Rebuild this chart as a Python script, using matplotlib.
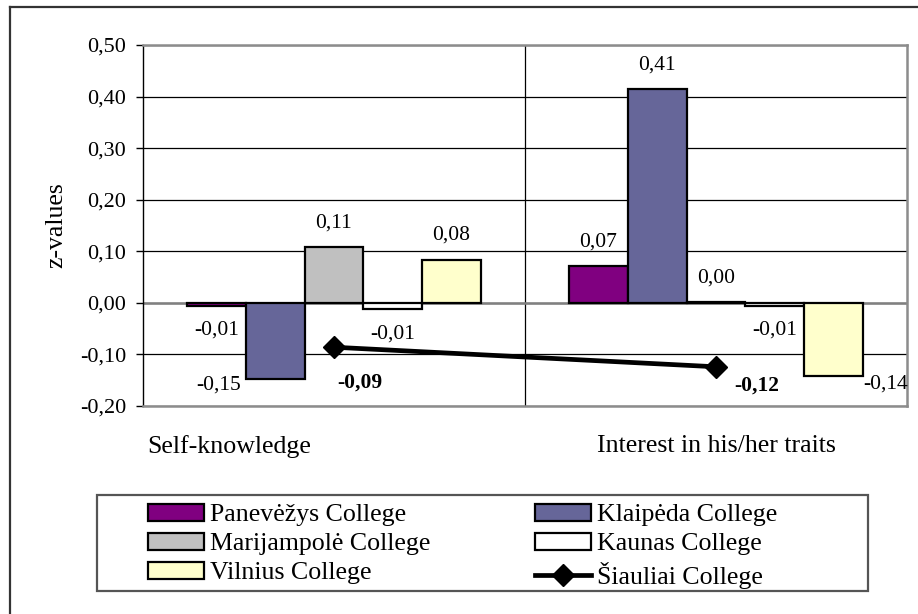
import numpy as np
import matplotlib.pyplot as plt
from matplotlib.patches import Rectangle
from matplotlib.lines import Line2D
from matplotlib.transforms import ScaledTranslation

plt.rcParams['font.family'] = ['Liberation Serif', 'DejaVu Serif']

categories = ["Self-knowledge", "Interest in his/her traits"]
colleges = ["Panevėžys College", "Klaipėda College", "Marijampolė College",
            "Kaunas College", "Vilnius College"]
panevezys = [-0.0052, 0.072]
klaipeda = [-0.148, 0.414]
marijampole = [0.108, 0.002]
kaunas = [-0.012, -0.0052]
vilnius = [0.084, -0.141]
siauliai = [-0.086, -0.124]
line_name = "Šiauliai College"
yticks = [-0.2, -0.1, 0.0, 0.1, 0.2, 0.3, 0.4, 0.5]

bar_series = [panevezys, klaipeda, marijampole, kaunas, vilnius]
bar_colors = ["#800080", "#666699", "#C0C0C0", "#FFFFFF", "#FFFFCC"]

# label offsets in pixels (None -> default above/below the bar end)
bar_label_offsets = [
    [None, None],
    [(-57, -6), None],
    [None, None],
    [None, None],
    [None, (52, -8)],
]
line_label_offsets = [(26, -35), (41, -19)]

def fmt(v):
    return f"{v:.2f}".replace(".", ",")

W, H = 918, 614
fig = plt.figure(figsize=(W / 100, H / 100), dpi=100)
fig.patch.set_facecolor("white")

# outer chart frame (left and top edges visible)
fig.add_artist(Line2D([10 / W, 10 / W], [0, 1 - 7 / H], color="#333333", lw=1.6))
fig.add_artist(Line2D([10 / W, 1], [1 - 7 / H, 1 - 7 / H], color="#333333", lw=1.6))

ax = fig.add_axes([143 / W, (H - 406) / H, 764 / W, 361 / H])

x = np.arange(len(categories))
n = len(bar_series)
bw = 1 / (n + 1.5)
fs_val = 15.5

bars = []
for i, (vals, col) in enumerate(zip(bar_series, bar_colors)):
    pos = x + (i - (n - 1) / 2) * bw
    b = ax.bar(pos, vals, bw, color=col, edgecolor="black", linewidth=1.6,
               label=colleges[i], zorder=3)
    bars.append(b)
    for j, v in enumerate(vals):
        off = bar_label_offsets[i][j]
        if off is None:
            off = (0, 24 if v >= 0 else -25)
        ax.annotate(fmt(v), xy=(pos[j], v), xytext=off, textcoords="offset pixels",
                    ha="center", va="center", fontsize=fs_val, zorder=5,
                    annotation_clip=False)

line, = ax.plot(x, siauliai, color="black", lw=3.4, marker="D", markersize=11,
                label=line_name, zorder=4)
for j, v in enumerate(siauliai):
    ax.annotate(fmt(v), xy=(x[j], v), xytext=line_label_offsets[j],
                textcoords="offset pixels", ha="center", va="center",
                fontsize=fs_val, fontweight="bold", zorder=5)

ax.set_xlim(-0.5, 1.5)
ax.set_ylim(-0.2, 0.5)
ax.set_yticks(yticks)
ax.set_yticklabels([fmt(t) for t in yticks], fontsize=16)
ax.tick_params(axis="y", direction="out", length=5, width=1, pad=7, color="black")
ax.set_ylabel("z-values", fontsize=18.5, labelpad=9)

ax.set_xticks(x)
ax.set_xticklabels(categories, fontsize=18.6)
ax.tick_params(axis="x", length=0, pad=21)
xl = ax.get_xticklabels()
xl[0].set_transform(xl[0].get_transform() + ScaledTranslation(-104.5 / 100, 0, fig.dpi_scale_trans))

ax.set_xticks([0.5], minor=True)
ax.tick_params(axis="x", which="minor", length=0)
ax.grid(True, axis="y", color="black", lw=0.9, zorder=0)
ax.grid(True, axis="x", which="minor", color="black", lw=0.9, zorder=0)
ax.axhline(0, color="#808080", lw=1.8, zorder=2)

for s in ["top", "right", "bottom"]:
    ax.spines[s].set_color("#8c8c8c")
    ax.spines[s].set_linewidth(1.8)
ax.spines["left"].set_color("black")
ax.spines["left"].set_linewidth(1)

# legend box with two columns
fig.add_artist(Rectangle((97 / W, 1 - 591 / H), (868 - 97) / W, (591 - 495) / H,
                         transform=fig.transFigure, facecolor="white",
                         edgecolor="#555555", lw=1.6))
leg_kw = dict(frameon=False, fontsize=18.6, loc="upper left", borderpad=0,
              borderaxespad=0, handlelength=2.16, handleheight=0.62,
              handletextpad=0.25, labelspacing=0.25)
col1 = [bars[0], bars[2], bars[4]]
col2 = [bars[1], bars[3], line]
fig.legend(col1, [colleges[0], colleges[2], colleges[4]],
           bbox_to_anchor=(148 / W, 1 - 504 / H), **leg_kw)
fig.legend(col2, [colleges[1], colleges[3], line_name],
           bbox_to_anchor=(535 / W, 1 - 504 / H), **leg_kw)

fig.savefig("out.png", dpi=100)
